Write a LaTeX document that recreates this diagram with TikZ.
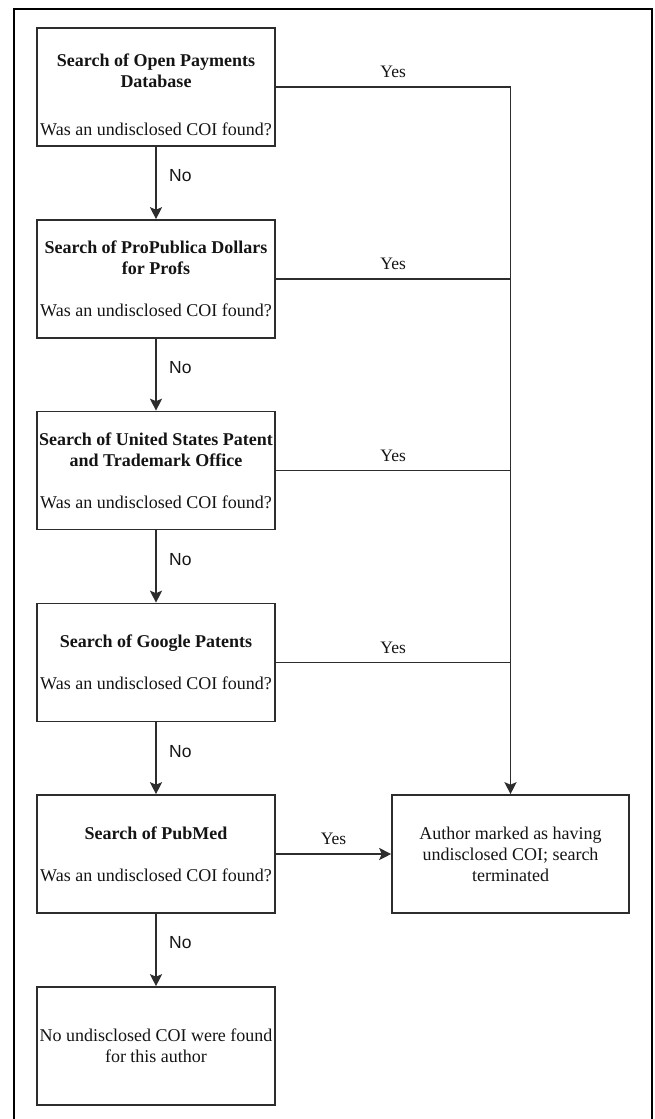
\documentclass[tikz,border=0pt]{standalone}
\usepackage{fontspec}
\setmainfont{Liberation Serif}
\newfontfamily\labelsans{Liberation Sans}
\usetikzlibrary{arrows.meta}
\definecolor{boxgray}{RGB}{45,45,45}
\definecolor{txtgray}{RGB}{20,20,20}
\begin{document}
\begin{tikzpicture}[x=1pt,y=-1pt,
  box/.style={draw=boxgray, line width=1.6pt, minimum width=238pt, minimum height=118pt,
    align=center, inner sep=0pt, text=txtgray, font=\fontsize{18}{21}\selectfont},
  conn/.style={draw=boxgray, line width=1.6pt},
  arr/.style={conn, -{Stealth[length=12pt,width=12pt,inset=2.5pt]}},
  nolab/.style={font=\labelsans\fontsize{17.5}{20}\selectfont, text=txtgray, anchor=west, xshift=9pt, pos=0.4},
  yeslab/.style={font=\fontsize{17.5}{20}\selectfont, text=txtgray, above=5pt, pos=0.5},
  frame/.style={draw=black, line width=2.5pt}
]
\useasboundingbox (0,0) rectangle (654,1119);
\draw[frame] (14,1135) -- (14,9) -- (652,9) -- (652,1135);

\node[box] (b1) at (156,87) {\textbf{\rule{0pt}{28pt}Search of Open Payments}\\\textbf{Database}\\[27pt]Was an undisclosed COI found?};
\node[box] (b2) at (156,279) {\textbf{Search of ProPublica Dollars}\\\textbf{for Profs}\\[21pt]Was an undisclosed COI found?};
\node[box] (b3) at (156,470.5) {\textbf{Search of United States Patent}\\\textbf{and Trademark Office}\\[21pt]Was an undisclosed COI found?};
\node[box] (b4) at (156,662.5) {\textbf{Search of Google Patents}\\[21pt]Was an undisclosed COI found?};
\node[box] (b5) at (156,854) {\textbf{Search of PubMed}\\[21pt]Was an undisclosed COI found?};
\node[box] (b6) at (156,1046) {No undisclosed COI were found\\for this author};
\node[box, minimum width=237pt] (au) at (510.5,854) {Author marked as having\\undisclosed COI; search\\terminated};

\draw[arr] (b1) -- node[nolab]{No} (b2);
\draw[arr] (b2) -- node[nolab]{No} (b3);
\draw[arr] (b3) -- node[nolab]{No} (b4);
\draw[arr] (b4) -- node[nolab]{No} (b5);
\draw[arr] (b5) -- node[nolab]{No} (b6);

\coordinate (j1) at (b1.east -| au.north);
\draw[arr] (b1.east) -- node[yeslab]{Yes} (j1) -- (au.north);
\draw[conn] (b2.east) -- node[yeslab]{Yes} (b2.east -| au.north);
\draw[conn] (b3.east) -- node[yeslab]{Yes} (b3.east -| au.north);
\draw[conn] (b4.east) -- node[yeslab]{Yes} (b4.east -| au.north);
\draw[arr] (b5) -- node[yeslab]{Yes} (au);
\end{tikzpicture}
\end{document}
